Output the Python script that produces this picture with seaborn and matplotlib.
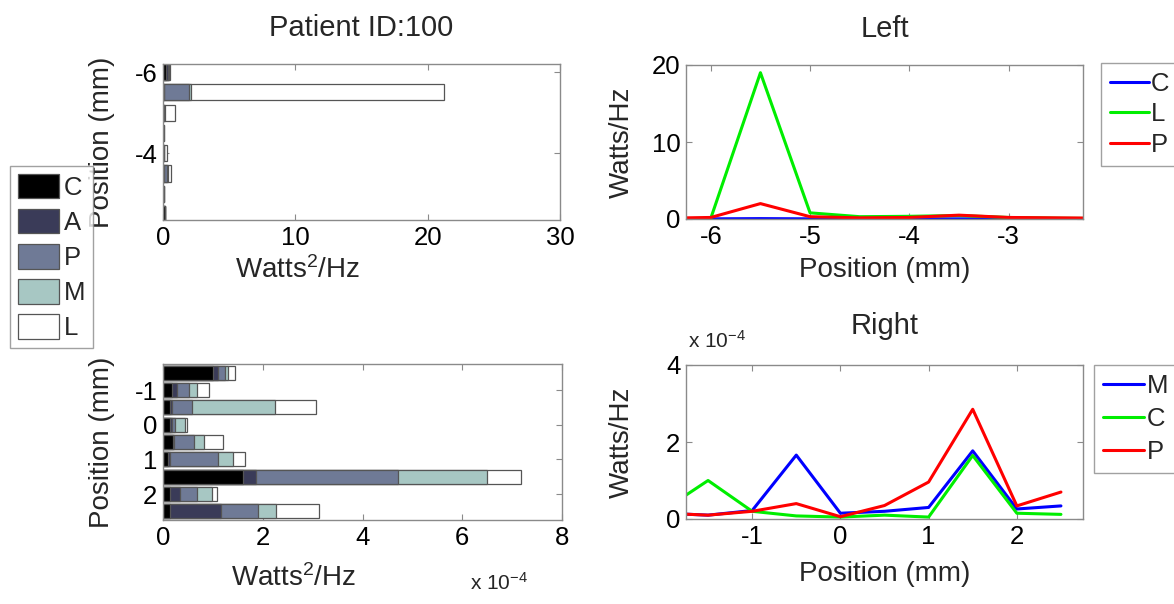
import matplotlib
matplotlib.use("Agg")
import matplotlib.pyplot as plt
import matplotlib.ticker as mticker
from matplotlib.patches import Patch
import numpy as np
import pandas as pd
import seaborn as sns

# ---------------- data ----------------
bar_labels = ["C", "A", "P", "M", "L"]
bar_colors = ["#000000", "#3a3b58", "#6f7a96", "#a7c7c3", "#ffffff"]

left_pos = [-6.0, -5.5, -5.0, -4.5, -4.0, -3.5, -3.0, -2.5]
left_C = [0.25, 0.05, 0.02, 0.01, 0.02, 0.05, 0.02, 0.12]
left_A = [0.15, 0.05, 0.02, 0.01, 0.02, 0.05, 0.01, 0.02]
left_P = [0.05, 1.90, 0.06, 0.01, 0.02, 0.20, 0.01, 0.01]
left_M = [0.02, 0.10, 0.05, 0.01, 0.02, 0.10, 0.01, 0.01]
left_L = [0.03, 19.10, 0.75, 0.02, 0.25, 0.20, 0.02, 0.01]

right_pos = [-1.5, -1.0, -0.5, 0.0, 0.5, 1.0, 1.5, 2.0, 2.5]
right_C = [1.00e-4, 0.18e-4, 0.14e-4, 0.14e-4, 0.20e-4, 0.10e-4, 1.60e-4, 0.14e-4, 0.14e-4]
right_A = [0.10e-4, 0.10e-4, 0.04e-4, 0.05e-4, 0.02e-4, 0.05e-4, 0.26e-4, 0.20e-4, 1.02e-4]
right_P = [0.15e-4, 0.25e-4, 0.40e-4, 0.05e-4, 0.40e-4, 0.95e-4, 2.86e-4, 0.34e-4, 0.74e-4]
right_M = [0.05e-4, 0.15e-4, 1.67e-4, 0.20e-4, 0.20e-4, 0.30e-4, 1.78e-4, 0.30e-4, 0.36e-4]
right_L = [0.15e-4, 0.25e-4, 0.82e-4, 0.04e-4, 0.38e-4, 0.25e-4, 0.67e-4, 0.10e-4, 0.87e-4]

line_left_pos = [-6.5, -6.0, -5.5, -5.0, -4.5, -4.0, -3.5, -3.0, -2.5, -2.0]
line_left_C = [0.02, 0.02, 0.05, 0.02, 0.02, 0.02, 0.02, 0.02, 0.02, 0.02]
line_left_L = [0.0, 0.1, 19.0, 0.8, 0.3, 0.35, 0.45, 0.2, 0.1, 0.05]
line_left_P = [0.1, 0.2, 2.0, 0.3, 0.15, 0.2, 0.5, 0.2, 0.15, 0.1]

line_right_pos = [-2.0, -1.5, -1.0, -0.5, 0.0, 0.5, 1.0, 1.5, 2.0, 2.5]
line_right_M = [0.15e-4, 0.10e-4, 0.22e-4, 1.66e-4, 0.15e-4, 0.20e-4, 0.30e-4, 1.77e-4, 0.26e-4, 0.34e-4]
line_right_C = [0.24e-4, 1.00e-4, 0.20e-4, 0.08e-4, 0.05e-4, 0.10e-4, 0.05e-4, 1.65e-4, 0.15e-4, 0.12e-4]
line_right_P = [0.15e-4, 0.10e-4, 0.20e-4, 0.40e-4, 0.06e-4, 0.35e-4, 0.96e-4, 2.85e-4, 0.34e-4, 0.70e-4]

# ---------------- style ----------------
sns.set_theme(style="white")
plt.rcParams["font.family"] = ["Liberation Sans", "DejaVu Sans"]
plt.rcParams["axes.unicode_minus"] = False
plt.rcParams["mathtext.fontset"] = "custom"
plt.rcParams["mathtext.rm"] = "Liberation Sans"
plt.rcParams["mathtext.it"] = "Liberation Sans"

TICK_FS = 18.5
LABEL_FS = 20
TITLE_FS = 21
SPINE = "#8a8a8a"

fig = plt.figure(figsize=(11.74, 6.04), dpi=100)
W, H = 1174, 604


def add_ax(l, r, t, b):
    return fig.add_axes([l / W, (H - b) / H, (r - l) / W, (b - t) / H])


ax_tl = add_ax(163, 560, 64, 220)
ax_bl = add_ax(163, 562, 364, 520)
ax_tr = add_ax(686, 1083, 65, 219)
ax_br = add_ax(686, 1083, 365, 519)


def style_ax(ax):
    for s in ax.spines.values():
        s.set_color(SPINE)
        s.set_linewidth(1.0)
        s.set_visible(True)
    ax.tick_params(direction="in", length=4, width=0.8, color=SPINE,
                   labelsize=TICK_FS, labelcolor="black",
                   top=True, right=True, bottom=True, left=True, pad=4)
    ax.grid(False)
    ax.set_facecolor("white")


def stacked_barh(ax, pos, parts):
    cums = np.cumsum(np.array(parts), axis=0)
    # draw from the full stack down so each segment shows
    for i in range(len(parts) - 1, -1, -1):
        df = pd.DataFrame({"pos": pos, "val": cums[i]})
        sns.barplot(data=df, x="val", y="pos", orient="y", native_scale=True,
                    color=bar_colors[i], saturation=1, edgecolor="#555555",
                    linewidth=0.9, errorbar=None, width=0.8, ax=ax)


# ---- top-left stacked bars ----
stacked_barh(ax_tl, left_pos, [left_C, left_A, left_P, left_M, left_L])
ax_tl.set_xlim(0, 30)
ax_tl.set_ylim(-2.35, -6.2)
ax_tl.set_xticks([0, 10, 20, 30])
ax_tl.set_yticks([-6, -4])
style_ax(ax_tl)
ax_tl.set_title("Patient ID:100", fontsize=TITLE_FS, pad=20)
ax_tl.set_xlabel("Watts$^2$/Hz", fontsize=LABEL_FS)
ax_tl.xaxis.set_label_coords(0.34, -0.235)
ax_tl.set_ylabel("Position (mm)", fontsize=LABEL_FS)
ax_tl.yaxis.set_label_coords(-0.12, 0.5)

# ---- bottom-left stacked bars ----
stacked_barh(ax_bl, right_pos, [right_C, right_A, right_P, right_M, right_L])
ax_bl.set_xlim(0, 8e-4)
ax_bl.set_ylim(2.75, -1.75)
ax_bl.set_xticks([0, 2e-4, 4e-4, 6e-4, 8e-4])
ax_bl.xaxis.set_major_formatter(mticker.FuncFormatter(lambda v, p: f"{v * 1e4:g}"))
ax_bl.set_yticks([-1, 0, 1, 2])
style_ax(ax_bl)
ax_bl.set_xlabel("Watts$^2$/Hz", fontsize=LABEL_FS)
ax_bl.xaxis.set_label_coords(0.326, -0.285)
ax_bl.set_ylabel("Position (mm)", fontsize=LABEL_FS)
ax_bl.yaxis.set_label_coords(-0.12, 0.5)
fig.text(470 / W, (H - 590) / H, "x 10$^{\\mathregular{-4}}$", fontsize=15, ha="left", va="baseline")

# ---- top-right lines ----
df_l = pd.DataFrame({"pos": line_left_pos * 3,
                     "val": line_left_C + line_left_L + line_left_P,
                     "series": ["C"] * 10 + ["L"] * 10 + ["P"] * 10})
sns.lineplot(data=df_l, x="pos", y="val", hue="series",
             palette={"C": "#0000ff", "L": "#00ee00", "P": "#ff0000"},
             linewidth=2.2, ax=ax_tr, legend=False)
ax_tr.set_xlim(-6.25, -2.25)
ax_tr.set_ylim(0, 20)
ax_tr.set_xticks([-6, -5, -4, -3])
ax_tr.set_yticks([0, 10, 20])
style_ax(ax_tr)
ax_tr.set_title("Left", fontsize=TITLE_FS, pad=20)
ax_tr.set_xlabel("Position (mm)", fontsize=LABEL_FS)
ax_tr.xaxis.set_label_coords(0.5, -0.245)
ax_tr.set_ylabel("Watts/Hz", fontsize=LABEL_FS)
ax_tr.yaxis.set_label_coords(-0.13, 0.5)
h_tr = [plt.Line2D([], [], color=c, lw=2.2) for c in ["#0000ff", "#00ee00", "#ff0000"]]
fig.legend(h_tr, ["C", "L", "P"], loc="upper left", bbox_to_anchor=(1101 / W, (H - 63) / H),
           fontsize=TICK_FS, frameon=True, fancybox=False, edgecolor=SPINE,
           handlelength=1.5, handletextpad=0.1, labelspacing=0.25, borderpad=0.35,
           borderaxespad=0)

# ---- bottom-right lines ----
df_r = pd.DataFrame({"pos": line_right_pos * 3,
                     "val": line_right_M + line_right_C + line_right_P,
                     "series": ["M"] * 10 + ["C"] * 10 + ["P"] * 10})
sns.lineplot(data=df_r, x="pos", y="val", hue="series",
             palette={"M": "#0000ff", "C": "#00ee00", "P": "#ff0000"},
             linewidth=2.2, ax=ax_br, legend=False)
ax_br.set_xlim(-1.75, 2.75)
ax_br.set_ylim(0, 4e-4)
ax_br.set_xticks([-1, 0, 1, 2])
ax_br.set_yticks([0, 2e-4, 4e-4])
ax_br.yaxis.set_major_formatter(mticker.FuncFormatter(lambda v, p: f"{v * 1e4:g}"))
style_ax(ax_br)
ax_br.set_title("Right", fontsize=TITLE_FS, pad=22)
ax_br.set_xlabel("Position (mm)", fontsize=LABEL_FS)
ax_br.xaxis.set_label_coords(0.5, -0.27)
ax_br.set_ylabel("Watts/Hz", fontsize=LABEL_FS)
ax_br.yaxis.set_label_coords(-0.13, 0.5)
fig.text(688 / W, (H - 348) / H, "x 10$^{\\mathregular{-4}}$", fontsize=15, ha="left", va="baseline")
h_br = [plt.Line2D([], [], color=c, lw=2.2) for c in ["#0000ff", "#00ee00", "#ff0000"]]
fig.legend(h_br, ["M", "C", "P"], loc="upper left", bbox_to_anchor=(1094 / W, (H - 365) / H),
           fontsize=TICK_FS, frameon=True, fancybox=False, edgecolor=SPINE,
           handlelength=1.6, handletextpad=0.1, labelspacing=0.35, borderpad=0.35,
           borderaxespad=0)

# ---- left bar legend ----
h_bar = [Patch(facecolor=c, edgecolor="#555555", linewidth=0.9) for c in bar_colors]
fig.legend(h_bar, bar_labels, loc="upper left", bbox_to_anchor=(10 / W, (H - 166) / H),
           fontsize=TICK_FS, frameon=True, fancybox=False, edgecolor=SPINE,
           handlelength=1.6, handleheight=1.1, handletextpad=0.2, labelspacing=0.35,
           borderpad=0.3, borderaxespad=0)

fig.savefig("out.png", dpi=100, facecolor="white")
